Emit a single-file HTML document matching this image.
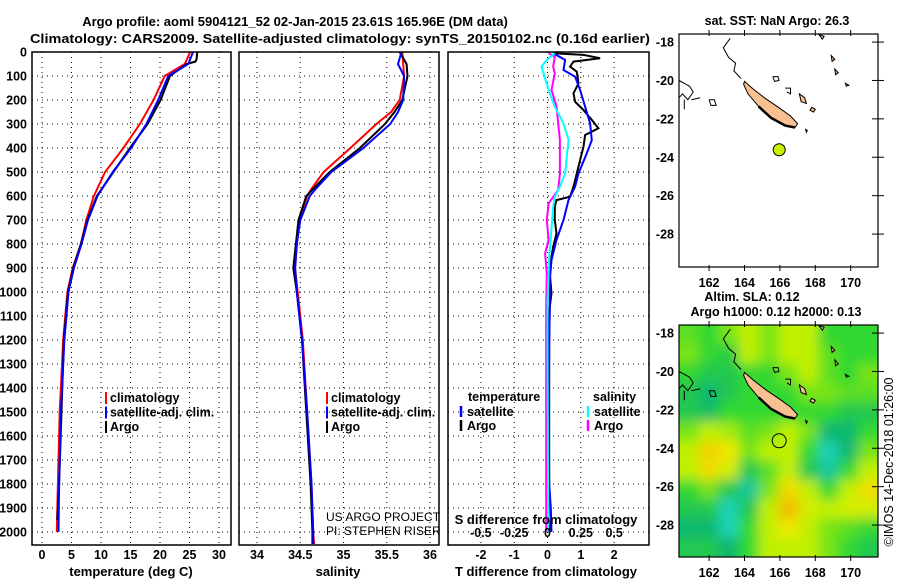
<!DOCTYPE html>
<html><head><meta charset="utf-8"><style>
html,body{margin:0;padding:0;background:#fff}
svg{display:block;font-family:"Liberation Sans",sans-serif}
.b{font-weight:bold;font-size:13px}
.t{font-weight:bold;font-size:12.5px}
</style></head><body>
<svg id="s" width="900" height="580" viewBox="0 0 900 580" xmlns="http://www.w3.org/2000/svg">
<rect width="900" height="580" fill="#fff"/>
<text class="b" x="295" y="26" text-anchor="middle">Argo profile: aoml 5904121_52 02-Jan-2015 23.61S 165.96E (DM data)</text>
<text class="b" x="30" y="43" textLength="620" lengthAdjust="spacingAndGlyphs">Climatology: CARS2009. Satellite-adjusted climatology: synTS_20150102.nc (0.16d earlier)</text>
<g id="g"></g>
</svg>
<script>
// ---------- data ----------
const depthT = [0,50,100,200,300,400,500,600,700,800,900,1000,1200,1500,1800,2000];
const tempClim = [25.1,24.2,20.8,18.9,16.6,13.8,10.7,8.8,7.5,6.6,5.2,4.3,3.6,3.0,2.7,2.5];
const tempSat  = [25.6,24.8,21.4,19.7,17.7,15.1,12.0,9.4,7.8,6.7,5.4,4.5,3.8,3.2,2.9,2.8];
const depthArgoT = [0,30,40,50,100,200,300,400,500,600,700,800,900,1000,1200,1500,1800,1950];
const tempArgo = [26.3,26.2,26.0,24.5,21.7,20.1,17.9,14.9,12.1,9.3,7.7,6.6,5.3,4.4,3.7,3.3,2.9,2.6];
const depthS = [0,50,100,200,250,300,400,500,570,600,700,800,900,1000,1200,1500,1800,2000,2050];
const salClim = [35.68,35.69,35.70,35.65,35.55,35.38,35.08,34.77,34.63,34.58,34.49,34.46,34.44,34.47,34.53,34.58,34.63,34.65,34.66];
const salSat  = [35.67,35.63,35.70,35.69,35.63,35.54,35.23,34.86,34.68,34.61,34.50,34.46,34.44,34.46,34.52,34.58,34.63,34.65,34.65];
const salArgo = [35.65,35.73,35.74,35.68,35.59,35.48,35.19,34.84,34.65,34.57,34.48,34.45,34.42,34.46,34.52,34.57,34.62,34.64,34.64];
const dTdepthA = [5,12,26,40,61,82,131,172,207,242,283,318,346,394,450,506,561,603,617,644,700,756,811,853,922,1006,1061,1200,1500,1800,1950,2000];
const dTArgo = [0.17,1.08,1.58,0.78,0.68,0.88,0.93,0.78,0.83,1.08,1.33,1.53,1.13,1.08,0.98,0.88,0.78,0.68,0.27,0.22,0.22,0.27,0.17,0.12,0.07,0.12,0.07,0.05,0.05,0.05,0.1,0.05];
const dTdepthS = [5,33,75,103,158,228,297,367,422,506,561,617,700,783,867,950,1061,1200,1500,1800,1900,2000];
const dTSat = [0.17,0.53,0.48,0.83,0.98,1.13,1.28,1.33,1.18,0.93,0.83,0.63,0.48,0.27,0.12,0.07,0.07,0.05,0.04,0.05,0.1,0.12];
const dSdepthS = [5,33,61,89,158,228,297,367,436,506,561,603,644,783,853,922,1033,1200,2000];
const dSSat = [0.055,-0.005,-0.045,-0.03,0.008,0.055,0.12,0.158,0.145,0.133,0.093,0.055,0.043,0.023,0.013,0.008,0,0,0.005];
const dSdepthA = [5,19,61,89,158,228,297,367,436,506,575,631,700,783,839,922,1061,1200,2000];
const dSArgo = [0.008,0.055,0.043,0.055,0.03,0.068,0.08,0.093,0.093,0.093,0.08,0.008,-0.005,0.008,-0.018,-0.005,-0.01,-0.01,-0.01];
const depthTicks = [0,100,200,300,400,500,600,700,800,900,1000,1100,1200,1300,1400,1500,1600,1700,1800,1900,2000];
const tempTicks = [0,5,10,15,20,25,30];
const salTicks = [34,34.5,35,35.5,36];
const salTickLabels = ["34","34.5","35","35.5","36"];
const dTTicks = [-2,-1,0,1,2];
const dSTicks = [-0.5,-0.25,0,0.25,0.5];
const dSTickLabels = ["-0.5","-0.25","0","0.25","0.5"];
const latTicks = [-18,-20,-22,-24,-26,-28];
const lonTicks = [162,164,166,168,170];
const argoLon = 165.96, argoLat = -23.61;
const slaGrid = [
[0.3,0,0.5,1,0.5,1,1,0,0,0],
[0.5,0,-0.3,1,0.5,1,1,0.3,0,0],
[0,-0.5,-0.5,0,0,0.5,1,0.3,0,0.5],
[-0.5,-1,-0.5,0,0,0,0.5,0.5,0.3,0.3],
[-0.5,-0.8,0,0,0,0,0,0,-0.5,-0.5],
[0.5,1,0.8,0.3,0.5,1,0.5,-1,-1,0],
[1,1.7,1.5,0.5,1,1,0,-1.8,-1,0.5],
[1,1.6,1.2,-0.5,0.3,1,-0.5,-1.5,0,1],
[0,0.5,-0.5,-1.5,0.5,1.6,1,0,1,1.6],
[-0.5,-0.5,-1.8,-0.5,1,1.9,1.2,1,1.2,1.2],
[-1,-1,-1.8,0,1,1.5,1,0.5,0.3,0],
[-0.5,-0.5,-1,0,1,1,1,0.5,0,-0.5]];

// ---------- helpers ----------
const NS="http://www.w3.org/2000/svg";
const G=document.getElementById('g');
function mk(tag,attrs,parent){const e=document.createElementNS(NS,tag);for(const k in attrs)e.setAttribute(k,attrs[k]);(parent||G).appendChild(e);return e;}
function txt(x,y,s,cls,anchor,parent){const e=mk('text',{x:x,y:y,'class':cls||'t','text-anchor':anchor||'middle'},parent);e.textContent=s;return e;}
const yD=d=>52+d*0.24;
const P1={x0:32,x1:231}, P2={x0:239,x1:439}, P3={x0:448,x1:649};
const xT=v=>42+v*5.9;
const xS=v=>257+(v-34)*86.5;
const xDT=v=>547.5+v*33.3;
const xDS=v=>547.5+v*133.3;
function line(xs,ds,sx,color,w){return mk('polyline',{points:xs.map((v,i)=>sx(v).toFixed(1)+','+yD(ds[i]).toFixed(1)).join(' '),fill:'none',stroke:color,'stroke-width':w||2});}

function panel(P,vx,name){
  const g=mk('g',{});
  
  
  depthTicks.forEach(d=>{if(d>0)mk('line',{x1:P.x0,x2:P.x1,y1:yD(d),y2:yD(d),stroke:'#000','stroke-width':1,'stroke-dasharray':'1,4'},g);});
  vx.forEach(x=>mk('line',{x1:x,x2:x,y1:52,y2:545,stroke:'#000','stroke-width':1,'stroke-dasharray':'1,4'},g));
  return g;
}
function frame(P,name){
  const r=mk('rect',{x:P.x0,y:52,width:P.x1-P.x0,height:493,fill:'none',stroke:'#000','stroke-width':1.5});
  
  
}

depthTicks.forEach(d=>{const t=txt(27,yD(d)+4.5,String(d),'t','end');

});

// Panel 1 temperature
panel(P1,tempTicks.map(xT),'temperature');
line(tempClim,depthT,xT,'#f00');
line(tempArgo,depthArgoT,xT,'#000');
line(tempSat,depthT,xT,'#00f');
frame(P1,'temperature');
tempTicks.forEach(v=>{const t=txt(xT(v),559,String(v));

});
txt(131,576,'temperature (deg C)','b');

// Panel 2 salinity
panel(P2,salTicks.map(xS),'salinity');
line(salClim,depthS,xS,'#f00');
line(salArgo,depthS,xS,'#000');
line(salSat,depthS,xS,'#00f');
frame(P2,'salinity');
salTicks.forEach((v,i)=>{const t=txt(xS(v),559,salTickLabels[i]);

});
txt(338,576,'salinity','b');
txt(326,521,'US ARGO PROJECT','r','start').setAttribute('style','font-size:12px');
txt(326,535,'PI: STEPHEN RISER','r','start').setAttribute('style','font-size:12px');

[[P1,106],[P2,327]].forEach(([P,mx],k)=>{
  [['#f00','climatology'],['#00f','satellite-adj. clim.'],['#000','Argo']].forEach(([c,l],i)=>{
    const y=398+i*14.5;
    const m=mk('line',{x1:mx,x2:mx,y1:y-6,y2:y+6,stroke:c,'stroke-width':2});
    
    
    const t=txt(mx+4,y+4,l,'t','start');
    
    
  });
});

// Panel 3 differences
panel(P3,dTTicks.map(xDT),'difference');
line(dTArgo,dTdepthA,xDT,'#000');
line(dTSat,dTdepthS,xDT,'#00f');
line(dSArgo,dSdepthA,xDS,'#f0f');
line(dSSat,dSdepthS,xDS,'#0ff');
frame(P3,'difference');
dTTicks.forEach(v=>{const t=txt(xDT(v),559,String(v));

});
dSTicks.forEach((v,i)=>{const t=txt(xDS(v),537,dSTickLabels[i]);

});
txt(546,524,'S difference from climatology','b');
txt(546,576,'T difference from climatology','b');
txt(468,401,'temperature','t','start');
txt(593,401,'salinity','t','start');
[[461,'#00f','satellite',416],[461,'#000','Argo',430],[588,'#0ff','satellite',416],[588,'#f0f','Argo',430]].forEach(([mx,c,l,y])=>{
  const m=mk('line',{x1:mx,x2:mx,y1:y-10,y2:y+1,stroke:c,'stroke-width':2.5});
  
  
  const t=txt(mx+6,y,l,'t','start');
  
  
});

// ---------- maps ----------
const MX=lon=>679+(lon-160.3)*17.7;
function drawMap(y0,h,heat,name){
  const MY=lat=>y0+(-17.58-lat)*19.2;
  const g=mk('g',{});
  
  
  const cid='clip'+y0;
  const cp=mk('clipPath',{id:cid},g);mk('rect',{x:679,y:y0,width:199,height:h},cp);
  const inner=mk('g',{'clip-path':'url(#'+cid+')'},g);
  mk('rect',{x:679,y:y0,width:199,height:h,fill:'#fff'},inner);
  if(heat){
    const cols=[[-2,[32,216,200]],[-1,[16,184,112]],[0,[48,216,48]],[1,[192,240,0]],[1.5,[240,232,0]],[2,[240,176,0]]];
    function col(v){for(let i=0;i<cols.length-1;i++){const a=cols[i],b=cols[i+1];if(v<=b[0]){const t=Math.max(0,(v-a[0])/(b[0]-a[0]));return 'rgb('+a[1].map((c,j)=>Math.round(c+(b[1][j]-c)*t)).join(',')+')';}}return 'rgb(240,176,0)';}
    const fid='blur'+y0;
    const f=mk('filter',{id:fid,x:'-10%',y:'-10%',width:'120%',height:'120%'},g);
    mk('feGaussianBlur',{stdDeviation:6},f);
    const hg=mk('g',{filter:'url(#'+fid+')'},inner);
    const cw=199/10,ch=h/12;
    slaGrid.forEach((row,r)=>row.forEach((v,c)=>{
      const cell=mk('rect',{x:679+c*cw-(c==0?15:0),y:y0+r*ch-(r==0?15:0),width:cw+1+(c==0||c==9?15:0),height:ch+1+(r==0||r==11?15:0),fill:col(v)},hg);
      
      
    }));
  }
  const P=pts=>pts.map(p=>MX(p[0]).toFixed(1)+','+MY(p[1]).toFixed(1)).join(' ');
  const nc=[[164.0,-20.05],[164.5,-20.45],[165.2,-20.95],[166.0,-21.45],[166.6,-21.85],[167.0,-22.25],[166.85,-22.45],[166.3,-22.35],[165.5,-21.95],[164.8,-21.35],[164.2,-20.7],[163.95,-20.2]];
  const isl=mk('polygon',{points:P(nc),fill:'#f8c090',stroke:'#000','stroke-width':1},inner);
  
  
  mk('polyline',{points:P([[164.8,-21.35],[165.5,-21.95],[166.3,-22.35],[166.85,-22.45]]),fill:'none',stroke:'#000','stroke-width':2.5},inner);
  [[[167.1,-20.7],[167.4,-20.9],[167.5,-21.2],[167.2,-21.1]],[[167.8,-21.4],[168.0,-21.5],[167.9,-21.65],[167.7,-21.55]],[[168.2,-17.6],[168.5,-17.7],[168.4,-17.85]],[[168.9,-18.7],[169.1,-18.9],[168.95,-19.0]],[[169.1,-19.4],[169.3,-19.6],[169.15,-19.7]],[[169.7,-20.15],[169.9,-20.25],[169.75,-20.3]],[[167.45,-22.55],[167.55,-22.6],[167.5,-22.7]]].forEach(p=>mk('polygon',{points:P(p),fill:'#f8c090',stroke:'#000','stroke-width':1},inner));
  const ol=[[[160.3,-20.0],[160.9,-20.3],[161.1,-20.6],[160.8,-21.0],[160.5,-20.7],[160.3,-20.9]],
   [[163.2,-17.8],[162.8,-18.3],[163.1,-18.8],[163.5,-19.1],[163.4,-19.5],[163.8,-19.9]],
   [[162.0,-21.0],[162.3,-21.0],[162.4,-21.3],[162.1,-21.3],[162.0,-21.0]],
   [[165.6,-19.8],[165.9,-19.8],[165.95,-20.0],[165.7,-20.05],[165.6,-19.8]],
   [[166.3,-20.4],[166.6,-20.4],[166.6,-20.7],[166.4,-20.6]],
   [[160.6,-21.0],[160.6,-21.5]],[[161.0,-21.0],[161.5,-20.9]]];
  ol.forEach(p=>mk('polyline',{points:P(p),fill:'none',stroke:'#000','stroke-width':1},inner));
  const c=mk('circle',{cx:MX(argoLon),cy:MY(argoLat),r:heat?7:6,fill:heat?'none':'#c8f000',stroke:'#000','stroke-width':1},g);
  
  
  mk('rect',{x:679,y:y0,width:199,height:h,fill:'none',stroke:'#000','stroke-width':1.2},g);
  latTicks.forEach(l=>{const y=MY(l);mk('line',{x1:872,x2:884,y1:y,y2:y,stroke:'#000'},g);
    const t=txt(674,y+4.5,String(l),'t','end',g);
    
    });
  lonTicks.forEach(l=>{const x=MX(l);mk('line',{x1:x,x2:x,y1:y0-4,y2:y0+2,stroke:'#000'},g);mk('line',{x1:x,x2:x,y1:y0+h-2,y2:y0+h+4,stroke:'#000'},g);
    const t=txt(x,y0+h+20,String(l),'t','middle',g);
    
    });
}
drawMap(34,233,false,'sst-map');
drawMap(325,232,true,'sla-map');
txt(777,25,'sat. SST: NaN Argo: 26.3','t');
txt(752,301,'Altim. SLA: 0.12','t');
txt(776,316,'Argo h1000: 0.12 h2000: 0.13','t');
const cr=txt(0,0,'©IMOS 14-Dec-2018 01:26:00','r','middle');
cr.setAttribute('transform','translate(893,462) rotate(-90)');
cr.setAttribute('style','font-size:12.5px');


</script>
</body></html>
